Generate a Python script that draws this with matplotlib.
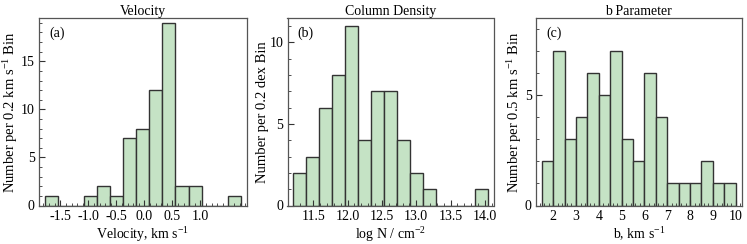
import numpy as np
import matplotlib
matplotlib.use('Agg')
from matplotlib import pyplot as plt
from matplotlib.ticker import MultipleLocator, FixedLocator

plt.rcParams['font.family'] = ['Liberation Serif', 'DejaVu Serif']
plt.rcParams['mathtext.fontset'] = 'custom'
plt.rcParams['mathtext.rm'] = 'Liberation Serif'
plt.rcParams['mathtext.it'] = 'Liberation Serif:italic'
plt.rcParams['axes.unicode_minus'] = False
plt.rcParams['font.size'] = 10

# velocity histogram (15 equal bins between data min and max)
vel_edges = np.linspace(-1.78, 1.72, 16)
vel_counts = [1, 0, 0, 1, 2, 1, 7, 8, 12, 19, 2, 2, 0, 0, 1]
vel_ticks = [-1.5, -1.0, -0.5, 0.0, 0.5, 1.0]

# column density histogram
logn_edges = np.linspace(11.21, 14.04, 16)
logn_counts = [2, 3, 6, 8, 11, 4, 7, 7, 4, 2, 1, 0, 0, 0, 1]
logn_ticks = [11.5, 12.0, 12.5, 13.0, 13.5, 14.0]

# b parameter histogram, 0.5 km/s bins
b_edges = np.arange(1.5, 10.01, 0.5)
b_counts = [2, 7, 3, 4, 6, 5, 7, 3, 2, 6, 4, 1, 1, 1, 2, 1, 1]
b_ticks = [2, 3, 4, 5, 6, 7, 8, 9, 10]

panels = [
    (vel_edges, vel_counts, vel_ticks, (-1.88, 1.83), 0.1, 'Velocity',
     'Velocity, km s$^{-1}$', 'Number per 0.2 km s$^{-1}$ Bin', '(a)', 19.5),
    (logn_edges, logn_counts, logn_ticks, (11.125, 14.125), 0.1, 'Column Density',
     'log N / cm$^{-2}$', 'Number per 0.2 dex Bin', '(b)', 11.5),
    (b_edges, b_counts, b_ticks, (1.245, 10.255), 0.2, 'b Parameter',
     'b, km s$^{-1}$', 'Number per 0.5 km s$^{-1}$ Bin', '(c)', 8.5),
]

fig = plt.figure(figsize=(7.47, 2.44), dpi=100)
W, H = 747, 244
boxes = [(39, 247), (287.5, 493.5), (536, 741.5)]
top, bottom = 18, 205.5

for (x0, x1), (edges, counts, ticks, xlim, xmin_step, title, xlab, ylab, tag, ytop) in zip(boxes, panels):
    ax = fig.add_axes([x0 / W, 1 - bottom / H, (x1 - x0) / W, (bottom - top) / H])
    ax.bar(edges[:-1], counts, width=np.diff(edges), align='edge', color='#c5e3c5',
           edgecolor='#333333', linewidth=1.0)
    ax.set_xlim(*xlim)
    ax.set_ylim(0, ytop)
    ax.xaxis.set_major_locator(FixedLocator(ticks))
    ax.xaxis.set_minor_locator(MultipleLocator(xmin_step))
    ax.yaxis.set_major_locator(MultipleLocator(5))
    ax.yaxis.set_minor_locator(MultipleLocator(1))
    ax.tick_params(which='both', direction='in', top=False, right=False, labelsize=10, pad=3)
    ax.tick_params(which='major', length=4, width=0.8, color='#333333')
    ax.tick_params(which='minor', length=2, width=0.6, color='#333333')
    for s in ax.spines.values():
        s.set_color('#555555')
        s.set_linewidth(0.9)
    ax.set_title(title, fontsize=10, pad=2)
    ax.set_xlabel(xlab, fontsize=10, labelpad=2)
    ax.set_ylabel(ylab, fontsize=10.5, labelpad=0.5)
    ax.text(0.05, 0.92, tag, transform=ax.transAxes, ha='left', va='center', fontsize=10)

fig.savefig('out.png', dpi=100)
